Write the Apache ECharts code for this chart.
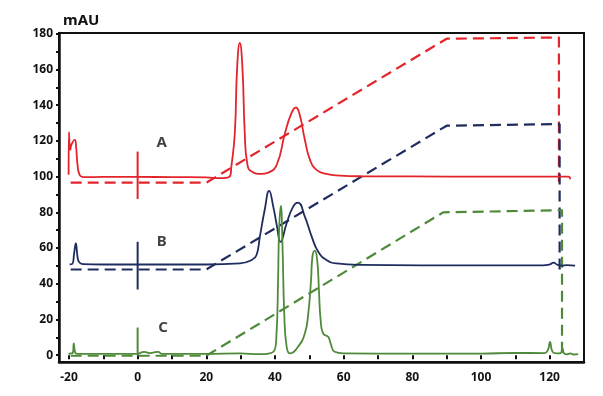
<!DOCTYPE html>
<html>
<head>
<meta charset="utf-8">
<script src="https://cdn.jsdelivr.net/npm/echarts@6/dist/echarts.min.js"></script>
<style>html,body{margin:0;padding:0;background:#fff;}#c{width:603px;height:396px;}</style>
</head>
<body>
<div id="c"></div>
<script>
// ---- data ----
const xTickLabels = [-20, 0, 20, 40, 60, 80, 100, 120];
const xTicks = [-20, -10, 0, 10, 20, 30, 40, 50, 60, 70, 80, 90, 100, 110, 120, 130];
const yTickLabels = [0, 20, 40, 60, 80, 100, 120, 140, 160, 180];
const yTicks = [0, 10, 20, 30, 40, 50, 60, 70, 80, 90, 100, 110, 120, 130, 140, 150, 160, 170, 180];

// Trace A (red)
const aTime = [-20.1, -20.0, -19.6, -19.3, -18.3, -17.9, -17.5, -16.9, -15.9, -10, 0, 10, 20, 23.9, 26.8, 27.3, 28.3, 29.0, 29.75, 30.5, 31.2, 31.9, 33.2, 36.1, 38.0, 40.5, 42.9, 44.8, 46.1, 47.2, 48.7, 50.2, 52.1, 55.0, 58.9, 65, 80, 100, 120, 125.5, 126];
const aSignal = [101, 124.9, 115, 117.8, 120.6, 116, 106.6, 101, 99.7, 99.8, 99.8, 99.7, 99.6, 99.1, 100, 105.6, 124.3, 161.7, 174.8, 161.7, 124.3, 107.5, 102.8, 101.5, 102.2, 106.6, 124.3, 135.5, 138.7, 134.6, 120.6, 109.4, 103.8, 101.5, 100.6, 100.2, 100.1, 100, 100, 100, 98.5];
const aGradTime = [-19.5, 20, 90, 122.7, 122.7];
const aGrad = [96.6, 96.6, 177.2, 177.9, 97];

// Trace B (navy)
const bTime = [-19.8, -19.0, -18.5, -18.0, -17.5, -17.0, -16.0, -10, 0, 20, 29.8, 33.2, 34.6, 35.6, 37.0, 38.3, 39.5, 40.6, 41.6, 43.4, 45.3, 46.7, 48.7, 50.7, 52.6, 55.0, 57.9, 65, 100, 118, 120, 121.1, 122.3, 123.5, 125, 127.4];
const bSignal = [50.9, 51.2, 57, 62.6, 55, 52, 51, 50.8, 50.8, 50.8, 51.4, 53.3, 56, 66.4, 81.3, 92, 83.2, 72, 63.5, 73.9, 83.2, 85.4, 77.6, 66.4, 57.9, 53.3, 51.4, 50.6, 50.3, 50.3, 50.8, 51.8, 50.6, 50.2, 50.4, 50.2];
const bGradTime = [-19.5, 20, 90, 122.9, 122.9];
const bGrad = [48, 48, 128.5, 129.4, 48];

// Trace C (green)
const cTime = [-20.1, -19.5, -18.9, -18.6, -18.2, -17.5, -15, -5, 0, 1.0, 1.9, 3.5, 4.5, 6.0, 7.0, 10, 20, 29.8, 35.6, 39.5, 40.4, 40.9, 41.2, 41.7, 42.2, 42.7, 43.4, 44.4, 46.7, 48.7, 49.7, 50.5, 50.9, 51.6, 52.3, 52.8, 53.3, 54.0, 55.5, 56.2, 57.4, 60, 80, 100, 110, 118.5, 119.5, 120.1, 120.8, 122, 123.2, 123.7, 124.2, 125, 126, 127, 128.3];
const cSignal = [0.6, 1, 1.2, 6.6, 1.5, 0.8, 0.8, 0.8, 0.8, 1.5, 1.9, 1.2, 1.5, 1.9, 0.8, 0.8, 0.8, 1, 0.6, 1.9, 10.3, 42, 70, 83.6, 60.7, 23.4, 4.7, 1, 4.7, 12.2, 23.4, 42, 55, 58.5, 53.3, 36.5, 19.6, 12.2, 10.3, 6.6, 1.9, 1, 0.9, 0.9, 1.3, 1.2, 3, 7.5, 2, 1, 1.2, 3.8, 1, 0.5, 1, 0.4, 0.6];
const cGradTime = [-19.5, 20, 89, 123.6, 123.6];
const cGrad = [-0.3, -0.3, 80, 81.2, 0];

// Injection markers (x, yTop, yBottom)
const injTime = 0;
const aInj = [114, 87.5];
const bInj = [63.5, 36.8];
const cInj = [15.5, 0];

// Trace labels
const traceNames = ['A', 'B', 'C'];
const labelTime = [7, 7, 7.4];
const labelSignal = [118.7, 63.5, 15.5];

// ---- chart ----
const zip = (xs, ys) => xs.map((x, i) => [x, ys[i]]);
const RED = '#e3242b', NAVY = '#1f2c5e', GREEN = '#4e8a3a';
const FONT = 'Noto Sans';

function solid(xs, ys, color) {
  return { type: 'line', data: zip(xs, ys), symbol: 'none', smooth: 0.5,
    lineStyle: { color, width: 1.8 }, silent: true, z: 3 };
}
function dashed(xs, ys, color) {
  return { type: 'line', data: zip(xs, ys), symbol: 'none',
    lineStyle: { color, width: 2.2, type: [11, 6] }, silent: true, z: 2 };
}
function marker(ys, color) {
  return { type: 'line', data: [[injTime, ys[0]], [injTime, ys[1]]], symbol: 'none',
    lineStyle: { color, width: 2 }, silent: true, z: 2 };
}

const chart = echarts.init(document.getElementById('c'), null, { renderer: 'canvas' });
chart.setOption({
  animation: false,
  backgroundColor: '#fff',
  grid: { left: 59, right: 19, top: 33, bottom: 34, show: true, borderColor: '#111', borderWidth: 2, backgroundColor: 'transparent' },
  xAxis: [
    { type: 'value', min: -22.9, max: 130, splitLine: { show: false },
      axisLine: { show: true, onZero: false, lineStyle: { color: '#111', width: 2.5 } },
      axisTick: { show: false }, axisLabel: { show: false } },
    { type: 'value', min: -22.9, max: 130, position: 'bottom', offset: 5, splitLine: { show: false },
      axisLine: { show: false },
      axisTick: { show: true, length: 4, customValues: xTicks, lineStyle: { color: '#111', width: 2 } },
      axisLabel: { show: true, customValues: xTickLabels, margin: 5, color: '#111', fontFamily: FONT, fontWeight: 'bold', fontSize: 12 } }
  ],
  yAxis: {
    type: 'value', min: -3.8, max: 180.4, splitLine: { show: false },
    name: 'mAU', nameLocation: 'end', nameGap: 5,
    nameTextStyle: { align: 'left', padding: [0, 0, 0, 4], color: '#111', fontFamily: FONT, fontWeight: 'bold', fontSize: 15 },
    axisLine: { show: true, onZero: false, lineStyle: { color: '#111', width: 2.5 } },
    axisTick: { show: true, length: 3, customValues: yTicks, lineStyle: { color: '#111', width: 2 } },
    axisLabel: { customValues: yTickLabels, margin: 6, color: '#111', fontFamily: FONT, fontWeight: 'bold', fontSize: 12 }
  },
  series: [
    dashed(aGradTime, aGrad, RED),
    dashed(bGradTime, bGrad, NAVY),
    dashed(cGradTime, cGrad, GREEN),
    solid(aTime, aSignal, RED),
    solid(bTime, bSignal, NAVY),
    solid(cTime, cSignal, GREEN),
    marker(aInj, RED),
    marker(bInj, NAVY),
    marker(cInj, GREEN),
    { type: 'scatter', symbolSize: 1, itemStyle: { color: 'rgba(0,0,0,0)' }, silent: true, z: 5,
      data: traceNames.map((n, i) => ({ name: n, value: [labelTime[i], labelSignal[i]] })),
      label: { show: true, position: 'inside', formatter: '{b}', color: '#111', fontFamily: FONT, fontWeight: 'bold', fontSize: 15 } }
  ]
});
</script>
</body>
</html>
